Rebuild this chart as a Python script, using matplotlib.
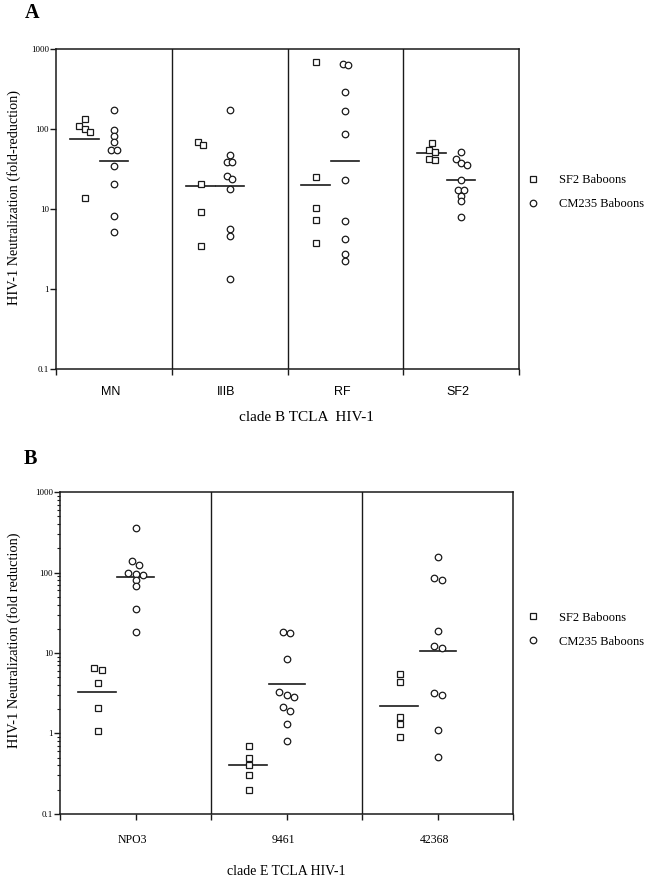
import matplotlib
matplotlib.use("Agg")
import matplotlib.pyplot as plt
import numpy as np
from matplotlib.lines import Line2D

plt.rcParams['font.family'] = ['Liberation Serif', 'DejaVu Serif']

# panel A: clade B TCLA isolates
cats_a = ["MN", "IIIB", "RF", "SF2"]
sf2_a = [
    [134, 109, 99, 92, 13.8],
    [69, 64, 20.5, 9.1, 3.45],
    [693, 25, 10.2, 7.3, 3.8],
    [66, 54, 52, 42, 41],
]
cm_a = [
    [171, 96, 82, 68, 55, 55, 34, 20.5, 8.2, 5.2],
    [174, 48, 39, 39, 25.9, 23.5, 17.9, 5.7, 4.6, 1.32],
    [655, 631, 290, 168, 87, 23, 7.1, 4.2, 2.74, 2.26],
    [52, 42, 38, 35, 23, 17.3, 17.3, 14.7, 12.6, 7.9],
]
sf2_a_mean = [74, 19.5, 20.1, 50.6]
cm_a_mean = [39.5, 19.4, 39.5, 23]

# panel B: clade E TCLA isolates
cats_b = ["NPO3", "9461", "42368"]
sf2_b = [
    [6.5, 6.1, 4.25, 2.07, 1.08],
    [0.70, 0.50, 0.40, 0.30, 0.20],
    [5.5, 4.3, 1.6, 1.31, 0.90],
]
cm_b = [
    [363, 141, 126, 100, 97, 94, 80, 69, 35, 18],
    [18, 17.6, 8.5, 3.25, 3.0, 2.8, 2.1, 1.9, 1.3, 0.81],
    [158, 85, 81, 18.8, 12.3, 11.5, 3.2, 3.0, 1.10, 0.51],
]
sf2_b_mean = [3.28, 0.40, 2.22]
cm_b_mean = [88, 4.1, 10.7]

yticks = [0.1, 1, 10, 100, 1000]
ytick_labels = ["0.1", "1", "10", "100", "1000"]

INK = '#1a1a1a'
SQ_MS = 4.3
CI_MS = 4.7


def spread(values, step, px_dec=80.0, thr=5.0):
    # side-by-side offsets for points that would sit on top of each other
    logs = np.log10(values)
    order = np.argsort(-logs, kind='stable')
    offs = np.zeros(len(values))
    clusters, cur = [], [order[0]]
    for a, b in zip(order[:-1], order[1:]):
        if (logs[a] - logs[b]) * px_dec < thr:
            cur.append(b)
        else:
            clusters.append(cur)
            cur = [b]
    clusters.append(cur)
    for c in clusters:
        n = len(c)
        for k, idx in enumerate(c):
            offs[idx] = (k - (n - 1) / 2) * step
    return offs


def panel(ax, cats, sq, ci, sq_mean, ci_mean, step):
    n = len(cats)
    for i in range(n):
        xs = i + 0.25 + spread(sq[i], step)
        ax.plot(xs, sq[i], 's', ms=SQ_MS, mfc='white', mec=INK, mew=0.9, ls='none', zorder=3)
        xc = i + 0.5 + spread(ci[i], step)
        ax.plot(xc, ci[i], 'o', ms=CI_MS, mfc='white', mec=INK, mew=0.9, ls='none', zorder=3)
        ax.plot([i + 0.12, i + 0.37], [sq_mean[i]] * 2, color=INK, lw=1.2, zorder=2)
        ax.plot([i + 0.38, i + 0.62], [ci_mean[i]] * 2, color=INK, lw=1.2, zorder=2)
    for i in range(1, n):
        ax.axvline(i, color=INK, lw=1.0)
    ax.set_yscale('log')
    ax.set_ylim(0.1, 1000)
    ax.set_xlim(0, n)
    ax.set_yticks(yticks)
    ax.set_yticklabels(ytick_labels)
    for s in ax.spines.values():
        s.set_color(INK)
        s.set_linewidth(1.1)
    ax.tick_params(axis='y', which='major', labelsize=6.5, length=4, width=1, pad=1, color=INK)
    ax.tick_params(axis='x', which='major', length=4.5, width=1, color=INK)


fig = plt.figure(figsize=(6.53, 8.83), dpi=100)

# ---- A
axA = fig.add_axes([56 / 653, 1 - 369 / 883, 463 / 653, 320 / 883])
panel(axA, cats_a, sf2_a, cm_a, sf2_a_mean, cm_a_mean, 5.5 / 115.5)
axA.set_xticks(range(len(cats_a) + 1))
axA.set_xticklabels([])
axA.minorticks_off()
for i, c in enumerate(cats_a):
    axA.text(i + 0.47, -0.071, c, transform=axA.get_xaxis_transform(),
             ha='center', va='center', fontsize=9, family=['Liberation Sans', 'DejaVu Sans'])
axA.set_xlabel("clade B TCLA  HIV-1", fontsize=11)
axA.xaxis.set_label_coords(0.54, -0.13)
axA.set_ylabel("HIV-1 Neutralization (fold-reduction)", fontsize=10.3)
axA.yaxis.set_label_coords(-0.0756, 0.536)

# ---- B
axB = fig.add_axes([60 / 653, 1 - 813.7 / 883, 453.3 / 653, 321.4 / 883])
panel(axB, cats_b, sf2_b, cm_b, sf2_b_mean, cm_b_mean, 7.6 / 151)
axB.set_xticks(np.arange(0, len(cats_b) + 0.01, 0.5))
axB.set_xticklabels([])
axB.tick_params(axis='y', which='minor', length=2.5, width=0.8, color=INK)
axB.yaxis.set_minor_formatter(plt.NullFormatter())
for i, c in enumerate(cats_b):
    axB.text(i + 0.48, -0.082, c, transform=axB.get_xaxis_transform(),
             ha='center', va='center', fontsize=8.5)
axB.set_xlabel("clade E TCLA HIV-1", fontsize=10)
axB.xaxis.set_label_coords(0.5, -0.161)
axB.set_ylabel("HIV-1 Neutralization (fold reduction)", fontsize=10.4)
axB.yaxis.set_label_coords(-0.086, 0.54)

# legends
handles = [
    Line2D([], [], marker='s', ms=SQ_MS, mfc='white', mec=INK, mew=0.9, ls='none'),
    Line2D([], [], marker='o', ms=CI_MS, mfc='white', mec=INK, mew=0.9, ls='none'),
]
names = ["SF2 Baboons", "CM235 Baboons"]
for yc in (192, 629.7):
    fig.legend(handles, names, loc='center left', bbox_to_anchor=(526.5 / 653, 1 - yc / 883),
               frameon=False, fontsize=9, handlelength=1.0, handletextpad=1.58,
               labelspacing=0.95, borderpad=0, borderaxespad=0)

fig.text(32.5 / 653, 1 - 13 / 883, "A", fontsize=14.5, fontweight='bold', ha='center', va='center')
fig.text(30.5 / 653, 1 - 459 / 883, "B", fontsize=14.5, fontweight='bold', ha='center', va='center')

fig.savefig("out.png", dpi=100)
